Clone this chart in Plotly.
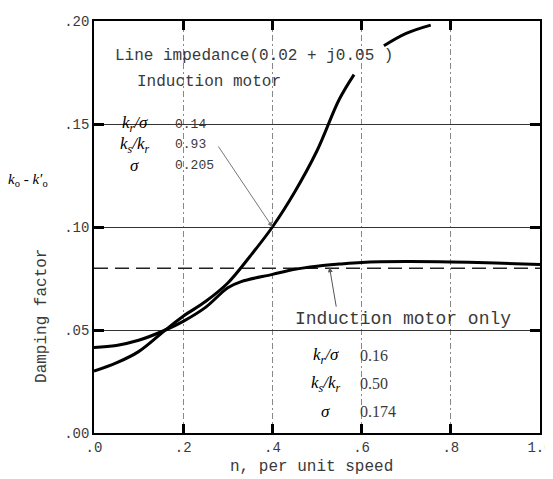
import plotly.graph_objects as go

# ---- data ----
speed_line = [0.0, 0.05, 0.10, 0.16, 0.20, 0.25, 0.30, 0.35, 0.40, 0.45, 0.50, 0.55, 0.583,
              None, 0.65, 0.70, 0.755]
damp_line = [0.030, 0.034, 0.0395, 0.050, 0.0567, 0.0638, 0.0728, 0.0858, 0.100, 0.117, 0.137, 0.162, 0.174,
             None, 0.188, 0.194, 0.198]

speed_motor = [0.0, 0.05, 0.10, 0.16, 0.20, 0.25, 0.30, 0.33, 0.40, 0.45, 0.50, 0.55, 0.60, 0.70, 0.80, 0.90, 1.00]
damp_motor = [0.0415, 0.0425, 0.0450, 0.050, 0.0542, 0.0610, 0.0705, 0.0735, 0.0770, 0.0795, 0.0810,
              0.0820, 0.0828, 0.0832, 0.0830, 0.0825, 0.0818]

speed_ref = [0.0, 1.0]
damp_ref = [0.080, 0.080]

x_ticks = [0.0, 0.2, 0.4, 0.6, 0.8, 1.0]
x_ticktext = [".0", ".2", ".4", ".6", ".8", "1.0"]
y_ticks = [0.0, 0.05, 0.10, 0.15, 0.20]
y_ticktext = [".00", ".05", ".10", ".15", ".20"]

upper_labels = ["<i>k<sub>r</sub>/σ</i>", "<i>k<sub>s</sub>/k<sub>r</sub></i>", "<i>σ</i>"]
upper_values = ["0.14", "0.93", "0.205"]
lower_labels = ["<i>k<sub>r</sub>/σ</i>", "<i>k<sub>s</sub>/k<sub>r</sub></i>", "<i>σ</i>"]
lower_values = ["0.16", "0.50", "0.174"]

MONO = "Liberation Mono, Courier New, monospace"
SERIF = "Liberation Serif, DejaVu Serif, serif"
TXT = "#3a3a3a"

fig = go.Figure()
fig.add_trace(go.Scatter(x=speed_ref, y=damp_ref, mode="lines",
                         line=dict(color="#222", width=1.4, dash="14px,7px"), hoverinfo="skip"))
fig.add_trace(go.Scatter(x=speed_motor, y=damp_motor, mode="lines", line_shape="spline",
                         line=dict(color="black", width=3), hoverinfo="skip"))
fig.add_trace(go.Scatter(x=speed_line, y=damp_line, mode="lines", line_shape="spline",
                         line=dict(color="black", width=3), connectgaps=False, hoverinfo="skip"))

ann = []
ann.append(dict(x=0.042, y=0.183, xref="x", yref="y", xanchor="left", yanchor="middle",
                text="Line impedance(0.02 + j0.05 )", showarrow=False,
                font=dict(family=MONO, size=16, color=TXT)))
ann.append(dict(x=0.091, y=0.1705, xref="x", yref="y", xanchor="left", yanchor="middle",
                text="Induction motor", showarrow=False,
                font=dict(family=MONO, size=16, color=TXT)))
for lab, val, yy in zip(upper_labels, upper_values, [0.150, 0.140, 0.130]):
    ann.append(dict(x=0.091, y=yy, xref="x", yref="y", xanchor="center", yanchor="middle",
                    text=lab, showarrow=False,
                    font=dict(family=SERIF, size=17, color="black")))
    ann.append(dict(x=0.176, y=yy, xref="x", yref="y", xanchor="left", yanchor="middle",
                    text=val, showarrow=False,
                    font=dict(family=MONO, size=13, color=TXT)))
ann.append(dict(x=0.447, y=0.0552, xref="x", yref="y", xanchor="left", yanchor="middle",
                text="Induction motor only", showarrow=False,
                font=dict(family=MONO, size=18, color=TXT)))
for lab, val, yy in zip(lower_labels, lower_values, [0.0375, 0.024, 0.0103]):
    ann.append(dict(x=0.52, y=yy, xref="x", yref="y", xanchor="center", yanchor="middle",
                    text=lab, showarrow=False,
                    font=dict(family=SERIF, size=17, color="black")))
    ann.append(dict(x=0.593, y=yy, xref="x", yref="y", xanchor="left", yanchor="middle",
                    text=val, showarrow=False,
                    font=dict(family=SERIF, size=16, color=TXT)))
# leader arrows
ann.append(dict(x=0.40, y=0.100, xref="x", yref="y", text="", showarrow=True,
                ax=-55, ay=-82, arrowhead=2, arrowsize=1, arrowwidth=1, arrowcolor="#777"))
ann.append(dict(x=0.528, y=0.0805, xref="x", yref="y", text="", showarrow=True,
                ax=7, ay=41, arrowhead=2, arrowsize=1, arrowwidth=1, arrowcolor="#555"))
# axis titles
ann.append(dict(x=-0.147, y=0.1226, xref="paper", yref="y", xanchor="center", yanchor="middle",
                text="<i>k</i><sub>o</sub> - <i>k′</i><sub>o</sub>", showarrow=False,
                font=dict(family=SERIF, size=15, color="black")))
ann.append(dict(x=-0.118, y=0.057, xref="paper", yref="y", xanchor="center", yanchor="middle",
                text="Damping factor", showarrow=False, textangle=-90,
                font=dict(family=MONO, size=16, color=TXT)))
ann.append(dict(x=0.487, y=-0.082, xref="paper", yref="paper", xanchor="center", yanchor="middle",
                text="n, per unit speed", showarrow=False,
                font=dict(family=MONO, size=16, color=TXT)))

fig.update_layout(
    width=553, height=479,
    margin=dict(l=86, r=21, t=6, b=54),
    paper_bgcolor="white", plot_bgcolor="white",
    showlegend=False, hovermode=False,
    annotations=ann,
)
fig.update_xaxes(range=[0, 1.0], tickvals=x_ticks, ticktext=x_ticktext,
                 showline=True, linecolor="black", linewidth=1.5, mirror="ticks",
                 ticks="inside", ticklen=9, tickwidth=3, tickcolor="black",
                 showgrid=True, gridcolor="#888", gridwidth=1, griddash="6px,3px,2px,3px",
                 zeroline=False, tickfont=dict(family=MONO, size=14, color=TXT))
fig.update_yaxes(range=[0, 0.2], tickvals=y_ticks, ticktext=y_ticktext,
                 showline=True, linecolor="black", linewidth=1.5, mirror="ticks",
                 ticks="inside", ticklen=10, tickwidth=3, tickcolor="black",
                 showgrid=True, gridcolor="#333", gridwidth=1.2,
                 zeroline=False, tickfont=dict(family=MONO, size=14, color=TXT))

fig.write_html("out.html")
